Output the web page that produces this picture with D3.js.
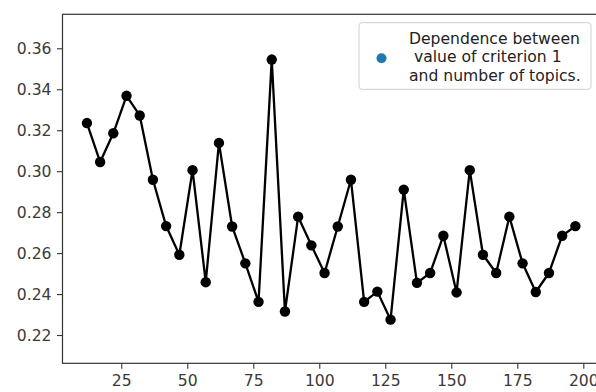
<!DOCTYPE html>
<html>
<head>
<meta charset="utf-8">
<script src="https://cdn.jsdelivr.net/npm/d3@7"></script>
<style>
  body { margin: 0; background: #fff; }
  svg { display: block; font-family: "DejaVu Sans", sans-serif; }
</style>
</head>
<body>
<div id="chart"></div>
<script>
const topics = [12, 17, 22, 27, 32, 37, 42, 47, 52, 57, 62, 67, 72, 77, 82, 87, 92, 97, 102,
                107, 112, 117, 122, 127, 132, 137, 142, 147, 152, 157, 162, 167, 172, 177, 182, 187, 192, 197];
const criterion = [0.3235, 0.3045, 0.3185, 0.3368, 0.3272, 0.2958, 0.2732, 0.2592, 0.3005, 0.2458,
                   0.3138, 0.2730, 0.2550, 0.2362, 0.3545, 0.2315, 0.2778, 0.2638, 0.2503,
                   0.2730, 0.2958, 0.2362, 0.2412, 0.2275, 0.2910, 0.2455, 0.2503, 0.2685,
                   0.2408, 0.3005, 0.2592, 0.2503, 0.2778, 0.2550, 0.2410, 0.2503, 0.2685, 0.2732];
const xTicks = [25, 50, 75, 100, 125, 150, 175, 200];
const yTicks = [0.22, 0.24, 0.26, 0.28, 0.30, 0.32, 0.34, 0.36];
const legendLines = ["Dependence between", " value of criterion 1", "and number of topics."];

let width = 596, height = 392;
let plot = {left: 62.5, top: 14.3, right: 599.8, bottom: 363.3};

let svg = d3.select("#chart")
  .append("svg")
  .attr("width", width)
  .attr("height", height);

// scales (matplotlib style 5% margins on x)
let x = d3.scaleLinear()
  .domain([2.75, 206.25])
  .range([plot.left, plot.right]);

let y = d3.scaleLinear()
  .domain([0.2062, 0.3766])
  .range([plot.bottom, plot.top]);

// axes
let xAxis = d3.axisBottom(x)
  .tickValues(xTicks)
  .tickSize(5.5)
  .tickSizeOuter(0)
  .tickPadding(4);

let yAxis = d3.axisLeft(y)
  .tickValues(yTicks)
  .tickFormat(d3.format(".2f"))
  .tickSize(5.5)
  .tickSizeOuter(0)
  .tickPadding(5.5);

let gx = svg.append("g")
  .attr("transform", "translate(0," + plot.bottom + ")")
  .call(xAxis);

let gy = svg.append("g")
  .attr("transform", "translate(" + plot.left + ",0)")
  .call(yAxis);

[gx, gy].forEach(g => {
  g.select(".domain").remove();
  g.selectAll(".tick line").attr("stroke", "#333").attr("stroke-width", 1.1);
  g.selectAll(".tick text")
    .attr("fill", "#3a3a3a")
    .style("font-size", "15.6px")
    .style("font-family", "'DejaVu Sans', sans-serif");
});
gx.selectAll(".tick text").attr("dy", "0.85em");

// frame
svg.append("rect")
  .attr("x", plot.left)
  .attr("y", plot.top)
  .attr("width", plot.right - plot.left)
  .attr("height", plot.bottom - plot.top)
  .attr("fill", "none")
  .attr("stroke", "#333")
  .attr("stroke-width", 1.2);

// line + markers
svg.append("path")
  .datum(criterion)
  .attr("fill", "none")
  .attr("stroke", "#000")
  .attr("stroke-width", 2.3)
  .attr("stroke-linejoin", "round")
  .attr("d", d3.line()
    .x((d, i) => x(topics[i]))
    .y(d => y(d)));

svg.selectAll(".point")
  .data(criterion)
  .enter()
  .append("circle")
  .attr("class", "point")
  .attr("cx", (d, i) => x(topics[i]))
  .attr("cy", d => y(d))
  .attr("r", 5.2)
  .attr("fill", "#000");

// legend
let legend = svg.append("g");

legend.append("rect")
  .attr("x", 359)
  .attr("y", 22.7)
  .attr("width", 232)
  .attr("height", 66.6)
  .attr("rx", 3)
  .attr("fill", "#fff")
  .attr("fill-opacity", 0.8)
  .attr("stroke", "#d0d0d0")
  .attr("stroke-width", 1);

legend.append("circle")
  .attr("cx", 381.5)
  .attr("cy", 58.2)
  .attr("r", 5)
  .attr("fill", "#1f77b4");

legend.selectAll(".legend-line")
  .data(legendLines)
  .enter()
  .append("text")
  .attr("class", "legend-line")
  .attr("x", 409)
  .attr("y", (d, i) => 43.5 + i * 18.5)
  .attr("fill", "#222")
  .style("font-size", "15.6px")
  .style("white-space", "pre")
  .attr("xml:space", "preserve")
  .text(d => d);
</script>
</body>
</html>
